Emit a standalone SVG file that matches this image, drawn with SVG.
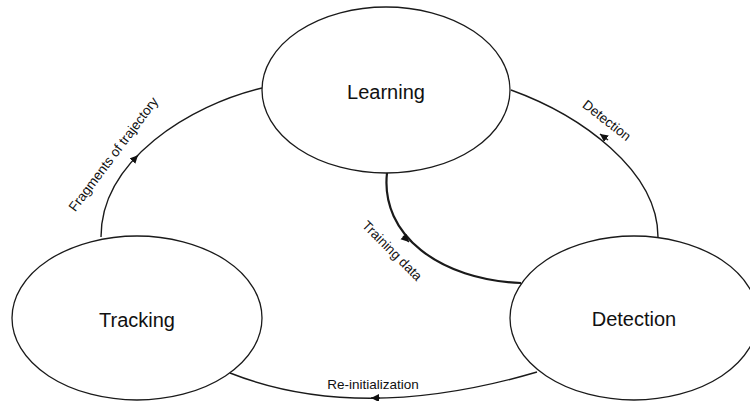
<svg xmlns="http://www.w3.org/2000/svg" width="750" height="401" viewBox="0 0 750 401">
  <style>
    .node { fill: #ffffff; stroke: #1a1a1a; stroke-width: 1.3; }
    .nlabel { font-family: "Liberation Sans", Arial, sans-serif; font-size: 20px; fill: #111111; text-anchor: middle; }
    .edge { fill: none; stroke: #1a1a1a; stroke-width: 1.4; }
    .thick { stroke-width: 2.2; }
    .elabel { font-family: "Liberation Sans", Arial, sans-serif; font-size: 13.5px; fill: #111111; text-anchor: middle; }
  </style>
  <defs>
    <marker id="arr" markerUnits="userSpaceOnUse" markerWidth="10" markerHeight="10" refX="8" refY="4" orient="auto">
      <path d="M0,0 L8,4 L0,8 Z" fill="#111111"/>
    </marker>
  </defs>
  <rect width="750" height="401" fill="#ffffff"/>
  <g id="connectors">
    <path class="edge" d="M101,237 C101,160 190,105 262,88"/>
    <path class="edge" d="M133,160.5 L138,155.3" marker-end="url(#arr)"/>
    <path class="edge" d="M658,237 C658,170 580,115 511,90"/>
    <path class="edge" d="M608,140 L600,134" marker-end="url(#arr)"/>
    <path class="edge thick" d="M387,173 C380,235 440,280 521,283"/>
    <path class="edge" d="M403,236 L409,242" marker-end="url(#arr)"/>
    <path class="edge" d="M537,372 Q360,424 230,373"/>
    <path class="edge" d="M380,398 L371,398" marker-end="url(#arr)"/>
    <text class="elabel" transform="translate(117,157) rotate(-53)">Fragments of trajectory</text>
    <text class="elabel" transform="translate(604,124) rotate(38)">Detection</text>
    <text class="elabel" transform="translate(389,254) rotate(45)">Training data</text>
    <text class="elabel" x="373" y="389">Re-initialization</text>
  </g>
  <g id="node-learning">
    <ellipse class="node" cx="386" cy="90" rx="124" ry="83"/>
    <text class="nlabel" x="386" y="99">Learning</text>
  </g>
  <g id="node-tracking">
    <ellipse class="node" cx="137" cy="318" rx="125" ry="82"/>
    <text class="nlabel" x="137" y="327">Tracking</text>
  </g>
  <g id="node-detection">
    <ellipse class="node" cx="634" cy="318" rx="124" ry="82"/>
    <text class="nlabel" x="634" y="326">Detection</text>
  </g>
</svg>
